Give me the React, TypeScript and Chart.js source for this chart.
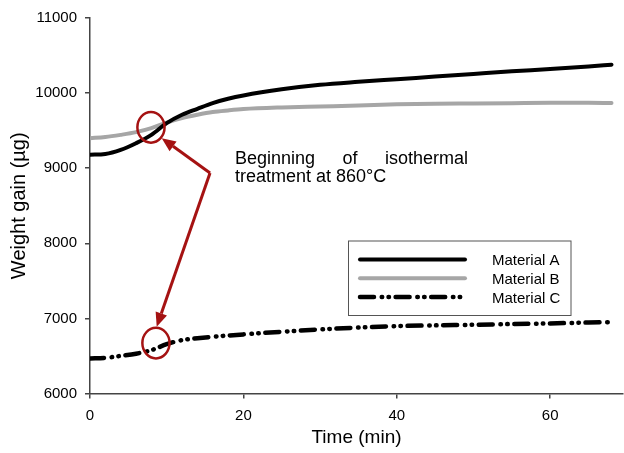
import React, { useEffect, useRef } from 'react';
import { Chart, registerables } from 'chart.js';

Chart.register(...registerables);

// ---- data ----
const timeMin = [0, 2, 4, 6, 8, 10, 12, 14, 16, 18, 20, 25, 30, 35, 40, 45, 50, 55, 60, 65, 68];
const materialA = [9180, 9190, 9244, 9333, 9444, 9600, 9711, 9791, 9867, 9924, 9968, 10050, 10110, 10150, 10185, 10220, 10255, 10290, 10320, 10355, 10378];
const materialB = [9400, 9415, 9444, 9480, 9533, 9608, 9667, 9711, 9747, 9769, 9787, 9809, 9822, 9835, 9850, 9858, 9862, 9866, 9870, 9870, 9868];
const materialC = [6467, 6475, 6501, 6530, 6577, 6657, 6711, 6735, 6756, 6772, 6787, 6822, 6853, 6878, 6897, 6907, 6915, 6925, 6933, 6945, 6951];
const seriesLabels = ['Material A', 'Material B', 'Material C'];
const xTickValues = [0, 20, 40, 60];
const yTickValues = [6000, 7000, 8000, 9000, 10000, 11000];
const annotationLine1 = ['Beginning', 'of', 'isothermal'];
const annotationLine2 = 'treatment at 860°C';
// annotation anchors in data units [time, weight]
const circleA = [7.95, 9544];
const circleC = [8.6, 6671];
const arrowVertex = [15.65, 8937];
const arrowTipA = [9.35, 9400];
const arrowTipC = [8.7, 6888];

const FONT = '"Liberation Sans", Arial, Helvetica, sans-serif';
const RED = '#A51212';

const overlayPlugin = {
  id: 'overlay',
  afterDatasetsDraw(chart: any) {
    const { ctx } = chart;
    const xs = chart.scales.x;
    const ys = chart.scales.y;
    const px = (t: number) => xs.getPixelForValue(t);
    const py = (v: number) => ys.getPixelForValue(v);
    ctx.save();

    // ---- annotation circles ----
    ctx.strokeStyle = RED;
    ctx.lineWidth = 2.5;
    [circleA, circleC].forEach((c) => {
      ctx.beginPath();
      ctx.ellipse(px(c[0]), py(c[1]), 13.6, 15.3, 0, 0, Math.PI * 2);
      ctx.stroke();
    });

    // ---- arrows ----
    const vx = px(arrowVertex[0]);
    const vy = py(arrowVertex[1]);
    ctx.lineWidth = 3;
    ctx.lineCap = 'butt';
    [arrowTipA, arrowTipC].forEach((tip) => {
      const tx = px(tip[0]);
      const ty = py(tip[1]);
      const ang = Math.atan2(ty - vy, tx - vx);
      const headLen = 14;
      const headHalf = 6;
      const bx = tx - headLen * Math.cos(ang);
      const by = ty - headLen * Math.sin(ang);
      ctx.beginPath();
      ctx.moveTo(vx, vy);
      ctx.lineTo(bx, by);
      ctx.stroke();
      ctx.beginPath();
      ctx.fillStyle = RED;
      ctx.moveTo(tx, ty);
      ctx.lineTo(bx + headHalf * Math.sin(ang), by - headHalf * Math.cos(ang));
      ctx.lineTo(bx - headHalf * Math.sin(ang), by + headHalf * Math.cos(ang));
      ctx.closePath();
      ctx.fill();
    });

    // ---- annotation text ----
    ctx.fillStyle = '#000';
    ctx.font = `18px ${FONT}`;
    ctx.textBaseline = 'alphabetic';
    const left = 235;
    const right = 468;
    const widths = annotationLine1.map((w) => ctx.measureText(w).width);
    const total = widths.reduce((a, b) => a + b, 0);
    const gap = (right - left - total) / (annotationLine1.length - 1);
    let cx = left;
    annotationLine1.forEach((w, i) => {
      ctx.fillText(w, cx, 164);
      cx += widths[i] + gap;
    });
    ctx.fillText(annotationLine2, left, 181.5);

    // ---- legend ----
    const bx0 = 348, by0 = 240.5, bw = 222.5, bh = 74.5;
    ctx.fillStyle = '#fff';
    ctx.fillRect(bx0, by0, bw, bh);
    ctx.strokeStyle = '#555';
    ctx.lineWidth = 1;
    ctx.strokeRect(bx0 + 0.5, by0 + 0.5, bw, bh);
    chart.data.datasets.forEach((ds: any, i: number) => {
      const ly = 259.5 + i * 18.7;
      ctx.beginPath();
      ctx.setLineDash(ds.borderDash || []);
      ctx.lineCap = 'round';
      ctx.strokeStyle = ds.borderColor;
      ctx.lineWidth = ds.borderWidth;
      ctx.moveTo(360, ly);
      ctx.lineTo(465, ly);
      ctx.stroke();
      ctx.setLineDash([]);
      ctx.fillStyle = '#000';
      ctx.font = `15px ${FONT}`;
      ctx.textBaseline = 'alphabetic';
      ctx.fillText(ds.label, 492, ly + 5.6);
    });

    ctx.restore();
  },
};

export default function App() {
  const canvasRef = useRef<HTMLCanvasElement | null>(null);

  useEffect(() => {
    const canvas = canvasRef.current;
    if (!canvas) return;
    const mk = (arr: number[]) => timeMin.map((t, i) => ({ x: t, y: arr[i] }));
    const chart = new Chart(canvas, {
      type: 'line',
      data: {
        datasets: [
          {
            label: seriesLabels[0],
            data: mk(materialA),
            borderColor: '#000000',
            borderWidth: 4,
            pointRadius: 0,
            cubicInterpolationMode: 'monotone',
            borderCapStyle: 'round',
            fill: false,
          },
          {
            label: seriesLabels[1],
            data: mk(materialB),
            borderColor: '#A6A6A6',
            borderWidth: 4,
            pointRadius: 0,
            cubicInterpolationMode: 'monotone',
            borderCapStyle: 'round',
            fill: false,
          },
          {
            label: seriesLabels[2],
            data: mk(materialC),
            borderColor: '#000000',
            borderWidth: 4.5,
            borderDash: [14, 7.7, 0.5, 6.3, 0.5, 6.6],
            pointRadius: 0,
            cubicInterpolationMode: 'monotone',
            borderCapStyle: 'round',
            fill: false,
          },
        ],
      },
      options: {
        responsive: false,
        animation: false,
        devicePixelRatio: 1,
        layout: { padding: { top: 18, right: 1, left: 0, bottom: 0 } },
        plugins: {
          legend: { display: false },
          tooltip: { enabled: false },
        },
        scales: {
          x: {
            type: 'linear',
            min: 0,
            max: 69.5,
            afterBuildTicks: (s: any) => {
              s.ticks = xTickValues.map((v) => ({ value: v }));
            },
            afterFit: (s: any) => {
              s.height = 453 - 393.5;
            },
            ticks: {
              color: '#000',
              font: { family: FONT, size: 15 },
              padding: 8,
              maxRotation: 0,
              callback: (v: any) => String(v),
            },
            grid: {
              drawOnChartArea: false,
              drawTicks: true,
              tickLength: 5,
              color: '#444',
              lineWidth: 1.5,
            },
            border: { display: true, color: '#444', width: 1.5 },
            title: {
              display: true,
              text: 'Time (min)',
              color: '#000',
              font: { family: FONT, size: 19 },
              padding: { top: 0, bottom: 4 },
            },
          },
          y: {
            type: 'linear',
            min: 6000,
            max: 11000,
            afterBuildTicks: (s: any) => {
              s.ticks = yTickValues.map((v) => ({ value: v }));
            },
            afterFit: (s: any) => {
              s.width = 90;
            },
            ticks: {
              color: '#000',
              font: { family: FONT, size: 15 },
              padding: 8,
              callback: (v: any) => String(v),
            },
            grid: {
              drawOnChartArea: false,
              drawTicks: true,
              tickLength: 5,
              color: '#444',
              lineWidth: 1.5,
            },
            border: { display: true, color: '#444', width: 1.5 },
            title: {
              display: true,
              text: 'Weight gain (µg)',
              color: '#000',
              font: { family: FONT, size: 20 },
              padding: { top: 7, bottom: 0 },
            },
          },
        },
      },
      plugins: [overlayPlugin],
    } as any);
    return () => chart.destroy();
  }, []);

  return (
    <div style={{ position: 'fixed', left: 0, top: 0, width: 624, height: 453, background: '#fff' }}>
      <canvas ref={canvasRef} width={624} height={453} style={{ display: 'block' }} />
    </div>
  );
}
